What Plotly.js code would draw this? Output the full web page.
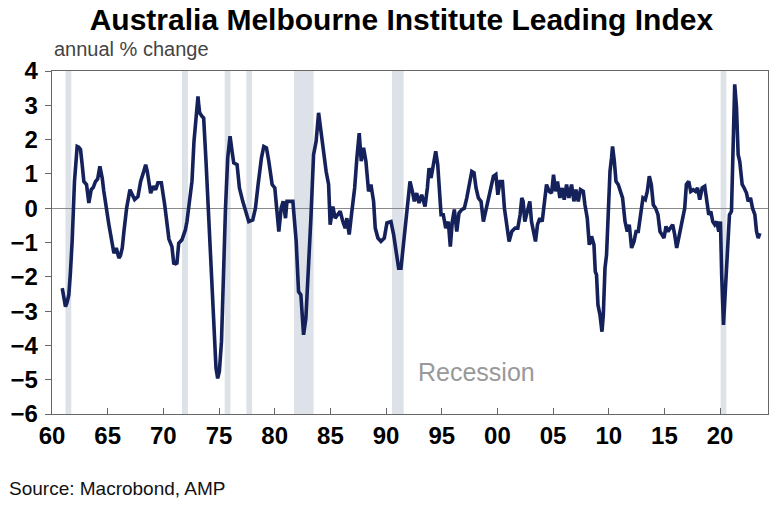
<!DOCTYPE html>
<html>
<head>
<meta charset="utf-8">
<script src="https://cdn.plot.ly/plotly-3.0.1.min.js"></script>
<style>html,body{margin:0;padding:0;background:#fff;}#chart{width:784px;height:508px;}</style>
</head>
<body>
<div id="chart"></div>
<script>
// decimal-year time axis
const years = [
1960.92,1961.05,1961.21,1961.35,1961.51,1961.65,1961.81,1962.02,1962.15,1962.26,1962.40,1962.56,1962.70,1962.86,1963.10,1963.20,1963.31,1963.52,1963.70,1963.91,1964.10,1964.30,1964.51,1964.65,1964.81,1965.11,1965.32,1965.56,1965.77,1966.01,1966.15,1966.31,1966.46,1966.70,1967.00,1967.21,1967.42,1967.72,1967.96,1968.20,1968.41,1968.56,1968.71,1968.86,1969.10,1969.31,1969.51,1969.82,1970.12,1970.30,1970.50,1970.77,1970.93,1971.10,1971.22,1971.38,1971.53,1971.67,1971.83,1971.98,1972.12,1972.34,1972.57,1972.75,1972.93,1973.04,1973.11,1973.18,1973.26,1973.47,1973.62,1973.83,1974.01,1974.23,1974.43,1974.61,1974.73,1974.88,1975.03,1975.22,1975.36,1975.58,1975.78,1975.90,1975.99,1976.17,1976.32,1976.62,1976.83,1977.13,1977.43,1977.67,1978.03,1978.27,1978.51,1978.81,1979.02,1979.26,1979.47,1979.77,1980.01,1980.22,1980.37,1980.58,1980.76,1980.97,1981.10,1981.24,1981.63,1981.93,1982.14,1982.35,1982.59,1982.80,1983.04,1983.25,1983.49,1983.72,1983.94,1984.15,1984.39,1984.62,1984.84,1984.98,1985.22,1985.43,1985.65,1985.88,1986.12,1986.33,1986.48,1986.69,1986.93,1987.18,1987.38,1987.59,1987.77,1987.98,1988.19,1988.43,1988.64,1988.88,1989.03,1989.27,1989.54,1989.84,1990.08,1990.44,1990.68,1990.92,1991.13,1991.34,1991.60,1991.90,1992.15,1992.36,1992.54,1992.75,1992.96,1993.20,1993.50,1993.71,1993.86,1994.04,1994.24,1994.46,1994.64,1994.78,1994.94,1995.14,1995.36,1995.59,1995.77,1995.95,1996.13,1996.35,1996.55,1996.80,1997.03,1997.25,1997.45,1997.70,1997.90,1998.08,1998.29,1998.53,1998.74,1998.95,1999.19,1999.43,1999.64,1999.86,2000.04,2000.24,2000.45,2000.63,2000.85,2001.05,2001.29,2001.59,2001.83,2002.04,2002.19,2002.31,2002.46,2002.67,2002.91,2003.06,2003.21,2003.42,2003.60,2003.81,2004.02,2004.20,2004.41,2004.65,2004.86,2005.04,2005.22,2005.40,2005.61,2005.82,2006.00,2006.21,2006.42,2006.66,2006.87,2007.05,2007.26,2007.46,2007.71,2007.86,2008.07,2008.25,2008.45,2008.67,2008.79,2008.90,2009.03,2009.21,2009.39,2009.51,2009.66,2009.80,2009.95,2010.11,2010.25,2010.34,2010.50,2010.65,2010.85,2011.06,2011.24,2011.46,2011.66,2011.84,2012.05,2012.27,2012.45,2012.65,2012.86,2013.07,2013.28,2013.46,2013.64,2013.82,2014.00,2014.21,2014.42,2014.60,2014.78,2014.96,2015.14,2015.32,2015.53,2015.74,2015.92,2016.10,2016.28,2016.46,2016.64,2016.82,2016.97,2017.18,2017.36,2017.58,2017.79,2017.97,2018.17,2018.39,2018.62,2018.80,2018.98,2019.16,2019.34,2019.52,2019.70,2019.88,2020.03,2020.14,2020.30,2020.48,2020.66,2020.84,2021.02,2021.17,2021.31,2021.47,2021.62,2021.76,2021.98,2022.16,2022.37,2022.52,2022.73,2022.91,2023.12,2023.27,2023.42,2023.57
];
const leadingIndex = [
-2.33,-2.60,-2.87,-2.75,-2.53,-1.90,-0.97,0.78,1.50,1.80,1.78,1.71,1.30,0.78,0.69,0.40,0.15,0.54,0.60,0.78,0.85,1.22,0.88,0.50,0.10,-0.48,-0.87,-1.31,-1.16,-1.45,-1.38,-1.16,-0.68,0.00,0.54,0.39,0.25,0.34,0.78,1.03,1.27,1.07,0.69,0.44,0.64,0.54,0.74,0.74,0.10,-0.50,-0.90,-1.12,-1.60,-1.62,-1.60,-1.02,-0.97,-0.92,-0.77,-0.63,-0.39,0.20,0.78,1.95,2.63,3.00,3.26,3.00,2.78,2.68,2.63,1.37,0.10,-1.36,-2.43,-3.69,-4.67,-4.96,-4.76,-3.89,-1.94,0.00,1.47,2.00,2.10,1.66,1.32,1.27,0.59,0.20,-0.09,-0.39,-0.34,0.00,0.69,1.47,1.80,1.76,1.37,0.69,0.59,-0.19,-0.68,0.00,0.20,-0.29,0.20,0.20,0.20,-0.97,-2.43,-2.53,-3.69,-3.21,-1.75,-0.29,1.56,1.95,2.78,2.24,1.56,1.07,0.69,-0.48,0.05,-0.29,-0.19,-0.09,-0.39,-0.58,-0.29,-0.77,-0.09,0.59,1.47,2.19,1.37,1.76,1.37,0.49,0.69,0.20,-0.58,-0.87,-0.97,-0.87,-0.43,-0.39,-0.77,-1.26,-1.75,-1.75,-0.92,0.00,0.78,0.49,0.20,0.44,0.15,0.39,0.05,0.59,1.17,0.88,1.27,1.66,1.27,0.69,-0.19,-0.19,-0.58,-0.39,-1.12,-0.39,-0.04,-0.68,-0.14,-0.04,0.00,0.30,0.59,1.07,1.03,0.59,0.30,0.20,-0.39,-0.09,0.30,0.59,0.93,0.98,0.39,0.78,0.78,0.00,-0.58,-0.97,-0.68,-0.58,-0.58,-0.19,0.30,0.20,-0.39,-0.09,0.20,-0.39,-0.68,-0.97,-0.48,-0.29,-0.39,0.10,0.69,0.49,0.44,0.98,0.49,0.78,0.30,0.59,0.25,0.69,0.30,0.69,0.20,0.54,0.20,0.54,0.49,0.10,-0.29,-1.07,-0.82,-1.07,-1.85,-1.94,-2.82,-3.11,-3.60,-3.11,-1.75,-1.36,0.00,1.07,1.47,1.80,1.37,0.78,0.69,0.49,0.30,-0.39,-0.68,-0.48,-1.16,-0.97,-0.68,-0.68,-0.19,0.30,0.25,0.49,0.93,0.69,0.10,0.00,-0.19,-0.68,-0.77,-0.87,-0.53,-0.68,-0.58,-0.48,-0.77,-1.16,-0.87,-0.58,-0.39,0.00,0.69,0.78,0.49,0.54,0.49,0.59,0.25,0.59,0.64,0.20,-0.19,-0.09,-0.39,-0.48,-0.39,-0.68,-0.39,-1.94,-3.40,-2.33,-1.16,-0.19,-0.09,1.47,3.61,2.93,1.56,1.37,0.69,0.59,0.44,0.20,0.30,0.00,-0.19,-0.68,-0.87,-0.73
];
// recession periods
const recessionStart = [1961.21,1971.67,1975.51,1977.46,1981.74,1990.53,2020.05];
const recessionEnd   = [1961.73,1972.21,1976.03,1977.97,1983.49,1991.58,2020.56];
// axis ticks
const tickYears = [1960,1965,1970,1975,1980,1985,1990,1995,2000,2005,2010,2015,2020];
const tickLabels = ['60','65','70','75','80','85','90','95','00','05','10','15','20'];

const shapes = recessionStart.map((s,i)=>({
  type:'rect', xref:'x', yref:'paper', x0:s, x1:recessionEnd[i], y0:0, y1:1,
  fillcolor:'#dde1e8', line:{width:0}, layer:'below'
}));

const trace = {
  x: years, y: leadingIndex, type:'scatter', mode:'lines',
  line:{color:'#14215a', width:3.6}, hoverinfo:'skip'
};

const layout = {
  width:784, height:508,
  margin:{l:52, r:16, t:71, b:94},
  paper_bgcolor:'#fff', plot_bgcolor:'rgba(0,0,0,0)',
  showlegend:false,
  title:{text:'Australia Melbourne Institute Leading Index', x:0.512, xanchor:'center',
         yref:'container', y:0.962, yanchor:'middle',
         font:{family:'Liberation Sans, Arial, sans-serif', size:30, color:'#000', weight:'bold'}},
  xaxis:{range:[1960,2024.3], tickvals:tickYears, ticktext:tickLabels,
         showgrid:false, zeroline:false, showline:true, linecolor:'#666', linewidth:1.3, mirror:true,
         ticks:'inside', ticklen:6, tickcolor:'#666',
         tickfont:{family:'Liberation Sans, Arial, sans-serif', size:24, color:'#000', weight:'bold'}},
  yaxis:{range:[-6,4], dtick:1, showgrid:false, zeroline:true, zerolinecolor:'#8a8a8a', zerolinewidth:1,
         showline:true, linecolor:'#666', linewidth:1.3, mirror:true,
         ticks:'outside', ticklen:6, tickcolor:'#666', ticklabelstandoff:2,
         tickfont:{family:'Liberation Sans, Arial, sans-serif', size:24, color:'#000', weight:'bold'}},
  shapes: shapes,
  annotations:[
    {text:'annual % change', xref:'paper', yref:'paper', x:0, y:1.064, xanchor:'left', yanchor:'middle',
     showarrow:false, font:{family:'Liberation Sans, Arial, sans-serif', size:20, color:'#444'}},
    {text:'Recession', xref:'x', yref:'y', x:1998.1, y:-4.77, xanchor:'center', yanchor:'middle',
     showarrow:false, font:{family:'Liberation Sans, Arial, sans-serif', size:25, color:'#999'}},
    {text:'Source: Macrobond, AMP', xref:'paper', yref:'paper', x:-0.063, y:-0.216, xanchor:'left', yanchor:'middle',
     showarrow:false, font:{family:'Liberation Sans, Arial, sans-serif', size:19, color:'#111'}}
  ]
};

Plotly.newPlot('chart',[trace],layout,{staticPlot:true, displayModeBar:false});
</script>
</body>
</html>
